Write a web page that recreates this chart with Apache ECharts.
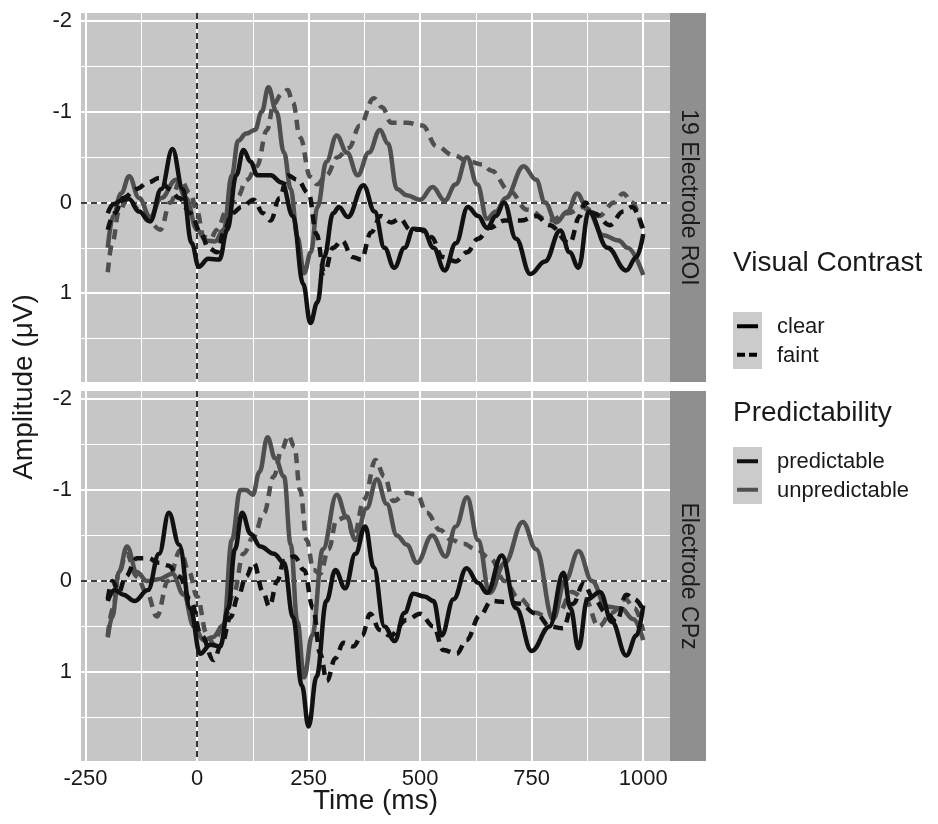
<!DOCTYPE html>
<html>
<head>
<meta charset="utf-8">
<title>ERP waveforms by visual contrast and predictability</title>
<script src="https://cdn.jsdelivr.net/npm/echarts@6/dist/echarts.min.js"></script>
<style>
  html, body { margin: 0; padding: 0; background: #ffffff; }
  #chart { width: 938px; height: 824px; }
</style>
</head>
<body>
<div id="chart"></div>
<script>
// ---- data: [time (ms), amplitude (µV)] ----
const panelNames = ['19 Electrode ROI', 'Electrode CPz'];
const timeTicks = [-250, 0, 250, 500, 750, 1000];
const timeMinorTicks = [-125, 125, 375, 625, 875];
const ampTicks = [-2, -1, 0, 1];
const ampMinorTicks = [-1.5, -0.5, 0.5, 1.5];
const contrastLevels = ['clear', 'faint'];
const predictLevels = ['predictable', 'unpredictable'];

const roiPredClear = [[-200, 0.12], [-188, 0.02], [-170, -0.02], [-153, -0.04], [-130, 0.1], [-105, 0.21], [-80, -0.15], [-55, -0.59], [-32, -0.15], [-12, 0.45], [4, 0.71], [25, 0.62], [50, 0.63], [68, 0.3], [88, -0.3], [104, -0.58], [120, -0.45], [135, -0.3], [165, -0.3], [190, -0.22], [215, 0.15], [238, 0.9], [254, 1.33], [270, 1.1], [285, 0.6], [305, 0.12], [318, 0.05], [338, 0.16], [373, -0.19], [398, 0.1], [420, 0.5], [442, 0.72], [465, 0.5], [485, 0.29], [507, 0.3], [530, 0.5], [555, 0.75], [580, 0.45], [607, 0.05], [630, 0.15], [650, 0.28], [670, 0.15], [688, 0.0], [715, 0.4], [747, 0.79], [780, 0.65], [814, 0.31], [835, 0.55], [855, 0.72], [878, 0.1], [920, 0.5], [962, 0.75], [985, 0.6], [1000, 0.35]];
const roiPredFaint = [[-200, 0.3], [-185, 0.12], [-165, -0.05], [-135, -0.15], [-110, -0.22], [-85, -0.27], [-62, -0.15], [-40, -0.05], [-15, 0.12], [10, 0.35], [25, 0.5], [45, 0.55], [62, 0.3], [78, 0.12], [100, 0.05], [127, -0.03], [148, 0.12], [165, 0.2], [185, -0.05], [203, -0.3], [225, -0.25], [250, -0.1], [268, 0.35], [285, 0.78], [305, 0.5], [325, 0.42], [348, 0.6], [368, 0.63], [390, 0.33], [412, 0.15], [435, 0.22], [455, 0.18], [478, 0.3], [500, 0.3], [525, 0.38], [550, 0.6], [580, 0.65], [605, 0.55], [630, 0.4], [655, 0.28], [690, 0.2], [725, 0.2], [760, 0.15], [790, 0.25], [835, 0.45], [858, 0.15], [870, 0.0], [890, 0.12], [925, 0.25], [955, 0.1], [975, 0.05], [1000, 0.3]];
const roiUnpredClear = [[-200, 0.5], [-188, 0.15], [-170, -0.1], [-152, -0.29], [-130, -0.05], [-105, 0.16], [-80, -0.05], [-47, -0.25], [-25, -0.05], [0, 0.3], [20, 0.42], [40, 0.43], [60, 0.3], [78, -0.3], [92, -0.68], [110, -0.76], [130, -0.8], [145, -1.0], [160, -1.27], [178, -1.0], [195, -0.55], [210, -0.15], [225, 0.38], [240, 0.78], [255, 0.55], [270, 0.05], [290, -0.45], [313, -0.74], [336, -0.55], [360, -0.3], [385, -0.55], [410, -0.8], [428, -0.65], [448, -0.15], [470, -0.08], [500, -0.03], [528, -0.17], [555, -0.02], [580, -0.2], [605, -0.5], [628, -0.2], [650, 0.18], [670, 0.1], [692, -0.05], [732, -0.4], [760, -0.25], [780, 0.0], [805, 0.22], [830, 0.1], [852, -0.1], [875, 0.08], [910, 0.36], [945, 0.42], [965, 0.5], [1000, 0.8]];
const roiUnpredFaint = [[-200, 0.77], [-190, 0.45], [-175, 0.1], [-155, -0.05], [-130, 0.08], [-110, 0.2], [-82, 0.3], [-60, 0.0], [-37, -0.25], [-15, -0.1], [0, 0.1], [15, 0.38], [30, 0.4], [45, 0.3], [67, 0.08], [90, -0.06], [112, -0.25], [134, -0.4], [157, -0.8], [172, -1.09], [190, -1.2], [203, -1.24], [215, -1.1], [231, -0.72], [254, -0.28], [269, -0.2], [290, -0.3], [315, -0.5], [340, -0.6], [365, -0.85], [396, -1.15], [415, -1.05], [435, -0.88], [470, -0.88], [505, -0.85], [537, -0.62], [575, -0.52], [610, -0.45], [640, -0.42], [660, -0.35], [700, -0.13], [740, 0.08], [790, 0.2], [830, 0.12], [866, 0.05], [900, 0.15], [935, 0.0], [955, -0.1], [975, 0.0], [1000, 0.35]];

const cpzPredClear = [[-200, 0.22], [-185, 0.1], [-165, 0.15], [-140, 0.22], [-110, 0.1], [-85, -0.3], [-63, -0.75], [-40, -0.4], [-15, 0.3], [7, 0.8], [30, 0.7], [52, 0.72], [70, 0.3], [85, -0.35], [101, -0.75], [120, -0.52], [142, -0.38], [172, -0.3], [195, -0.2], [215, 0.4], [235, 1.15], [250, 1.6], [268, 1.05], [290, 0.22], [310, -0.12], [332, 0.08], [355, -0.3], [377, -0.6], [396, -0.15], [420, 0.5], [443, 0.66], [465, 0.35], [485, 0.14], [510, 0.17], [530, 0.22], [548, 0.6], [575, 0.2], [604, -0.14], [630, 0.02], [650, 0.13], [683, -0.28], [715, 0.3], [750, 0.77], [790, 0.5], [821, -0.09], [837, 0.3], [855, 0.74], [875, 0.2], [903, 0.12], [930, 0.45], [962, 0.82], [985, 0.6], [1000, 0.27]];
const cpzPredFaint = [[-200, 0.2], [-190, 0.0], [-175, 0.12], [-160, -0.05], [-135, -0.25], [-110, -0.25], [-85, -0.2], [-65, -0.17], [-40, -0.05], [-15, 0.2], [10, 0.6], [37, 0.87], [55, 0.7], [75, 0.4], [92, 0.17], [110, -0.05], [127, -0.2], [148, 0.12], [162, 0.28], [180, 0.0], [195, -0.22], [218, -0.27], [240, -0.12], [260, 0.3], [276, 0.8], [291, 1.1], [310, 0.85], [328, 0.68], [350, 0.72], [370, 0.6], [388, 0.36], [410, 0.54], [433, 0.6], [470, 0.43], [500, 0.36], [530, 0.5], [552, 0.76], [582, 0.8], [604, 0.65], [634, 0.38], [660, 0.22], [690, 0.23], [724, 0.25], [760, 0.36], [791, 0.5], [820, 0.52], [843, 0.25], [866, 0.03], [890, 0.2], [917, 0.35], [940, 0.45], [962, 0.15], [980, 0.2], [1000, 0.32]];
const cpzUnpredClear = [[-200, 0.62], [-190, 0.4], [-175, -0.1], [-157, -0.38], [-135, -0.1], [-112, 0.0], [-85, -0.02], [-55, -0.08], [-30, 0.15], [-7, 0.5], [15, 0.65], [35, 0.62], [60, 0.48], [78, -0.45], [97, -1.0], [110, -1.0], [125, -0.95], [140, -1.2], [158, -1.58], [175, -1.35], [195, -1.15], [210, -0.4], [225, 0.45], [240, 1.06], [258, 0.6], [282, -0.35], [313, -0.95], [336, -0.7], [355, -0.45], [380, -0.8], [403, -1.12], [425, -0.85], [448, -0.5], [470, -0.4], [493, -0.2], [527, -0.5], [557, -0.27], [580, -0.6], [605, -0.92], [630, -0.45], [656, 0.13], [690, -0.2], [730, -0.65], [760, -0.35], [798, 0.42], [825, 0.0], [855, -0.33], [885, 0.0], [917, 0.28], [950, 0.3], [978, 0.42], [1000, 0.65]];
const cpzUnpredFaint = [[-200, 0.6], [-188, 0.3], [-175, -0.1], [-158, -0.3], [-135, -0.05], [-112, 0.14], [-90, 0.39], [-65, 0.0], [-37, -0.34], [-18, -0.1], [0, 0.17], [22, 0.58], [37, 0.69], [60, 0.45], [82, 0.14], [104, -0.3], [127, -0.49], [150, -0.75], [172, -1.15], [190, -1.45], [205, -1.6], [218, -1.48], [231, -1.0], [246, -0.45], [261, -0.12], [276, -0.08], [295, -0.35], [313, -0.67], [336, -0.71], [351, -0.49], [375, -0.9], [400, -1.33], [420, -1.15], [440, -0.88], [470, -0.97], [493, -0.95], [515, -0.75], [545, -0.56], [570, -0.45], [597, -0.41], [625, -0.35], [657, -0.25], [690, 0.0], [720, 0.18], [760, 0.35], [785, 0.4], [810, 0.35], [840, 0.12], [870, 0.2], [900, 0.5], [930, 0.35], [960, 0.2], [980, 0.3], [1000, 0.55]];

const panelData = [
  { predClear: roiPredClear, predFaint: roiPredFaint, unpredClear: roiUnpredClear, unpredFaint: roiUnpredFaint },
  { predClear: cpzPredClear, predFaint: cpzPredFaint, unpredClear: cpzUnpredClear, unpredFaint: cpzUnpredFaint }
];

// ---- styling / layout ----
const FONT = '"Liberation Sans", Arial, Helvetica, sans-serif';
const PANEL_BG = '#c6c6c6';
const STRIP_BG = '#8f8f8f';
const KEY_BG = '#cbcbcb';
const INK = '#1a1a1a';
const COL_PRED = '#111111';
const COL_UNPRED = '#4f4f4f';
const LINE_W = 4.5;
const DASH = [10, 7];

const plotLeft = 81, plotWidth = 589;
const panelBoxes = [{ top: 13, height: 369 }, { top: 391, height: 370 }];
const stripX = plotLeft + plotWidth, stripW = 36;

const chart = echarts.init(document.getElementById('chart'), null, { renderer: 'canvas' });

const grids = [], xAxes = [], yAxes = [], series = [], graphics = [];

panelBoxes.forEach((box, i) => {
  const isBottom = i === panelBoxes.length - 1;
  grids.push({
    left: plotLeft, top: box.top, width: plotWidth, height: box.height,
    show: true, backgroundColor: PANEL_BG, borderWidth: 0, borderColor: PANEL_BG, containLabel: false
  });
  xAxes.push({
    gridIndex: i, type: 'value', min: -260, max: 1060,
    axisLine: { show: false },
    axisTick: { show: isBottom, length: 4, lineStyle: { color: '#333', width: 1.5 }, customValues: timeTicks },
    axisLabel: {
      show: isBottom, customValues: timeTicks, margin: 7, color: INK, fontSize: 22, fontFamily: FONT,
      formatter: v => String(v)
    },
    splitLine: { show: false }, minorSplitLine: { show: false }
  });
  yAxes.push({
    gridIndex: i, type: 'value', min: -2.09, max: 1.98, inverse: true,
    axisLine: { show: false },
    axisTick: { show: true, length: 4, lineStyle: { color: '#333', width: 1.5 }, customValues: ampTicks },
    axisLabel: { customValues: ampTicks, margin: 9, color: INK, fontSize: 22, fontFamily: FONT, formatter: v => String(v) },
    splitLine: { show: false }, minorSplitLine: { show: false }
  });

  // white grid lines (major + minor) through the axis scales
  const gridLines = [].concat(
    timeMinorTicks.map(v => ({ xAxis: v, lineStyle: { width: 1 } })),
    ampMinorTicks.map(v => ({ yAxis: v, lineStyle: { width: 1 } })),
    timeTicks.map(v => ({ xAxis: v, lineStyle: { width: 2 } })),
    ampTicks.map(v => ({ yAxis: v, lineStyle: { width: 2 } }))
  );
  series.push({
    type: 'line', data: [], xAxisIndex: i, yAxisIndex: i, silent: true, z: 1,
    markLine: {
      silent: true, symbol: 'none', animation: false, z: 1,
      label: { show: false },
      lineStyle: { color: '#ffffff', type: 'solid' },
      data: gridLines
    }
  });

  // stimulus-onset and zero reference lines
  series.push({
    type: 'line', data: [], xAxisIndex: i, yAxisIndex: i, silent: true, z: 3,
    markLine: {
      silent: true, symbol: 'none', animation: false, z: 3,
      label: { show: false },
      lineStyle: { color: '#000000', type: [6, 4], width: 1.6 },
      data: [{ xAxis: 0 }, { yAxis: 0 }]
    }
  });

  const d = panelData[i];
  const conds = [
    { data: d.unpredFaint, color: COL_UNPRED, dash: DASH, name: 'unpredictable faint' },
    { data: d.unpredClear, color: COL_UNPRED, dash: 'solid', name: 'unpredictable clear' },
    { data: d.predFaint, color: COL_PRED, dash: DASH, name: 'predictable faint' },
    { data: d.predClear, color: COL_PRED, dash: 'solid', name: 'predictable clear' }
  ];
  conds.forEach(c => {
    series.push({
      name: c.name, type: 'line', xAxisIndex: i, yAxisIndex: i, data: c.data,
      showSymbol: false, smooth: 0.4, smoothMonotone: 'x', z: 4,
      lineStyle: { color: c.color, width: LINE_W, type: c.dash, cap: 'butt', join: 'round' },
      emphasis: { disabled: true }
    });
  });

  // facet strip on the right
  graphics.push({
    type: 'rect', silent: true,
    shape: { x: stripX, y: box.top, width: stripW, height: box.height },
    style: { fill: STRIP_BG }
  });
  graphics.push({
    type: 'text', silent: true,
    x: stripX + stripW / 2, y: box.top + box.height / 2, rotation: -Math.PI / 2,
    style: { text: panelNames[i], fill: INK, font: '23px ' + FONT, align: 'center', verticalAlign: 'middle' }
  });
});

// axis titles
graphics.push({
  type: 'text', silent: true, x: plotLeft + plotWidth / 2, y: 801,
  style: { text: 'Time (ms)', fill: INK, font: '28px ' + FONT, align: 'center', verticalAlign: 'middle' }
});
graphics.push({
  type: 'text', silent: true, x: 24, y: 387, rotation: Math.PI / 2,
  style: { text: 'Amplitude (μV)', fill: INK, font: '28px ' + FONT, align: 'center', verticalAlign: 'middle' }
});

// legends
function legendBlock(title, titleY, keysTop, labels, keyStyles) {
  const keyX = 733, keyW = 29, keyH = 28.5, textX = 777;
  graphics.push({
    type: 'text', silent: true, x: keyX, y: titleY,
    style: { text: title, fill: INK, font: '28px ' + FONT, align: 'left', verticalAlign: 'middle' }
  });
  graphics.push({
    type: 'rect', silent: true,
    shape: { x: keyX, y: keysTop, width: keyW, height: keyH * labels.length },
    style: { fill: KEY_BG }
  });
  labels.forEach((lab, k) => {
    const cy = keysTop + keyH * (k + 0.5);
    graphics.push({
      type: 'line', silent: true,
      shape: { x1: keyX + 4, y1: cy, x2: keyX + keyW - 4, y2: cy },
      style: { stroke: keyStyles[k].color, lineWidth: 4, lineDash: keyStyles[k].dash, lineCap: 'butt' }
    });
    graphics.push({
      type: 'text', silent: true, x: textX, y: cy + 1,
      style: { text: lab, fill: INK, font: '22px ' + FONT, align: 'left', verticalAlign: 'middle' }
    });
  });
}
legendBlock('Visual Contrast', 263, 312, contrastLevels,
  [{ color: '#000', dash: null }, { color: '#000', dash: [8, 4] }]);
legendBlock('Predictability', 413, 447, predictLevels,
  [{ color: COL_PRED, dash: null }, { color: COL_UNPRED, dash: null }]);

chart.setOption({
  backgroundColor: '#ffffff',
  animation: false,
  textStyle: { fontFamily: FONT },
  grid: grids,
  xAxis: xAxes,
  yAxis: yAxes,
  series: series,
  graphic: graphics
});
</script>
</body>
</html>
